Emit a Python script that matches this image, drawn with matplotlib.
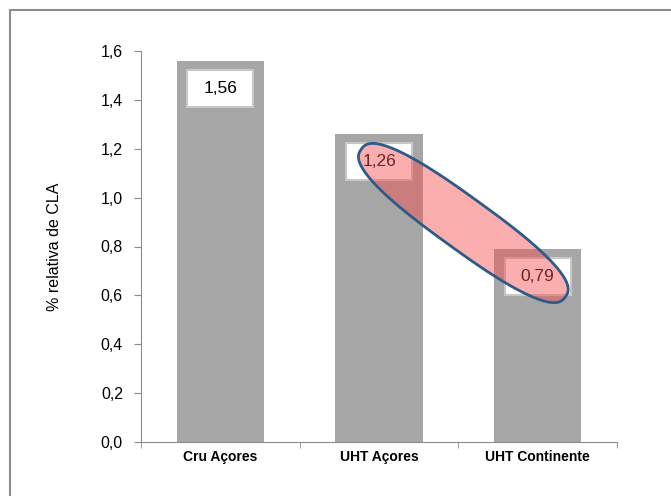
import matplotlib
matplotlib.use("Agg")
import matplotlib.pyplot as plt
import matplotlib.patches as patches
import numpy as np

plt.rcParams['font.family'] = ['Liberation Sans', 'DejaVu Sans']

# dados
amostras = ["Cru Açores", "UHT Açores", "UHT Continente"]
valores = [1.56, 1.26, 0.79]
yticks = [0.0, 0.2, 0.4, 0.6, 0.8, 1.0, 1.2, 1.4, 1.6]
ylabel = "% relativa de CLA"
destaque = [1, 2]  # barras ligadas pelo destaque

def virgula(v, casas):
    return f"{v:.{casas}f}".replace(".", ",")

fig = plt.figure(figsize=(6.71, 4.96), dpi=100)
ax = fig.add_axes([141/671, 54/496, 476/671, 391/496])

# moldura do grafico (cortada a direita e em baixo)
fig.patches.append(patches.Rectangle((10/671, -0.05), 1.1, 1.05 - 10/496,
                                     transform=fig.transFigure, fill=False,
                                     edgecolor="#8c8c8c", linewidth=1.5))

x = np.arange(len(amostras))
ax.bar(x, valores, width=0.55, color="#a6a6a6", zorder=2)

ax.set_xlim(-0.5, len(amostras) - 0.5)
ax.set_ylim(0, 1.6)
ax.set_yticks(yticks)
ax.set_yticklabels([virgula(t, 1) for t in yticks], fontsize=11.5)
ax.set_xticks(x)
ax.set_xticklabels(amostras, fontsize=10, fontweight="bold")
ax.tick_params(axis="x", length=0, pad=6)
ax.set_xticks(np.arange(-0.5, len(amostras)), minor=True)
ax.tick_params(axis="x", which="minor", length=4, color="#8c8c8c", direction="out")
ax.tick_params(axis="y", length=5, color="#8c8c8c", pad=8)
for s in ["top", "right"]:
    ax.spines[s].set_visible(False)
for s in ["left", "bottom"]:
    ax.spines[s].set_color("#8c8c8c")
ax.set_ylabel(ylabel, fontsize=11.5, labelpad=28)

# rotulos de valor em caixas brancas no topo das barras
fig.canvas.draw()
centros = []
for xi, v in zip(x, valores):
    px, py = ax.transData.transform((xi, v))
    cy = py - 9 - 18.5
    cx = px
    centros.append((cx, cy))
    box = patches.Rectangle((cx - 33, cy - 18.5), 66, 37, transform=None,
                            facecolor="white", edgecolor="#c8c8c8", linewidth=1.5, zorder=3)
    fig.patches.append(box)
    fig.text(cx / 671, cy / 496, virgula(v, 2), ha="center", va="center",
             fontsize=12.5, color="black", zorder=4)

# forma alongada (superelipse) a ligar UHT Açores e UHT Continente
(x1, y1), (x2, y2) = centros[destaque[0]], centros[destaque[1]]
mx, my = (x1 + x2) / 2 + 5, (y1 + y2) / 2 - 4
ang = np.arctan2(y2 - y1, x2 - x1)
a = (np.hypot(x2 - x1, y2 - y1) + 56) / 2
b = 26
n = 2.6
t = np.linspace(0, 2 * np.pi, 400)
u = a * np.sign(np.cos(t)) * np.abs(np.cos(t)) ** (2 / n)
w = b * np.sign(np.sin(t)) * np.abs(np.sin(t)) ** (2 / n)
xs = mx + u * np.cos(ang) - w * np.sin(ang)
ys = my + u * np.sin(ang) + w * np.cos(ang)
forma = patches.Polygon(np.column_stack([xs, ys]), closed=True, transform=None,
                        facecolor=(0.97, 0.3, 0.3, 0.45), edgecolor="#2e5a8a",
                        linewidth=2.0, zorder=5)
fig.patches.append(forma)

fig.savefig("out.png", dpi=100)
